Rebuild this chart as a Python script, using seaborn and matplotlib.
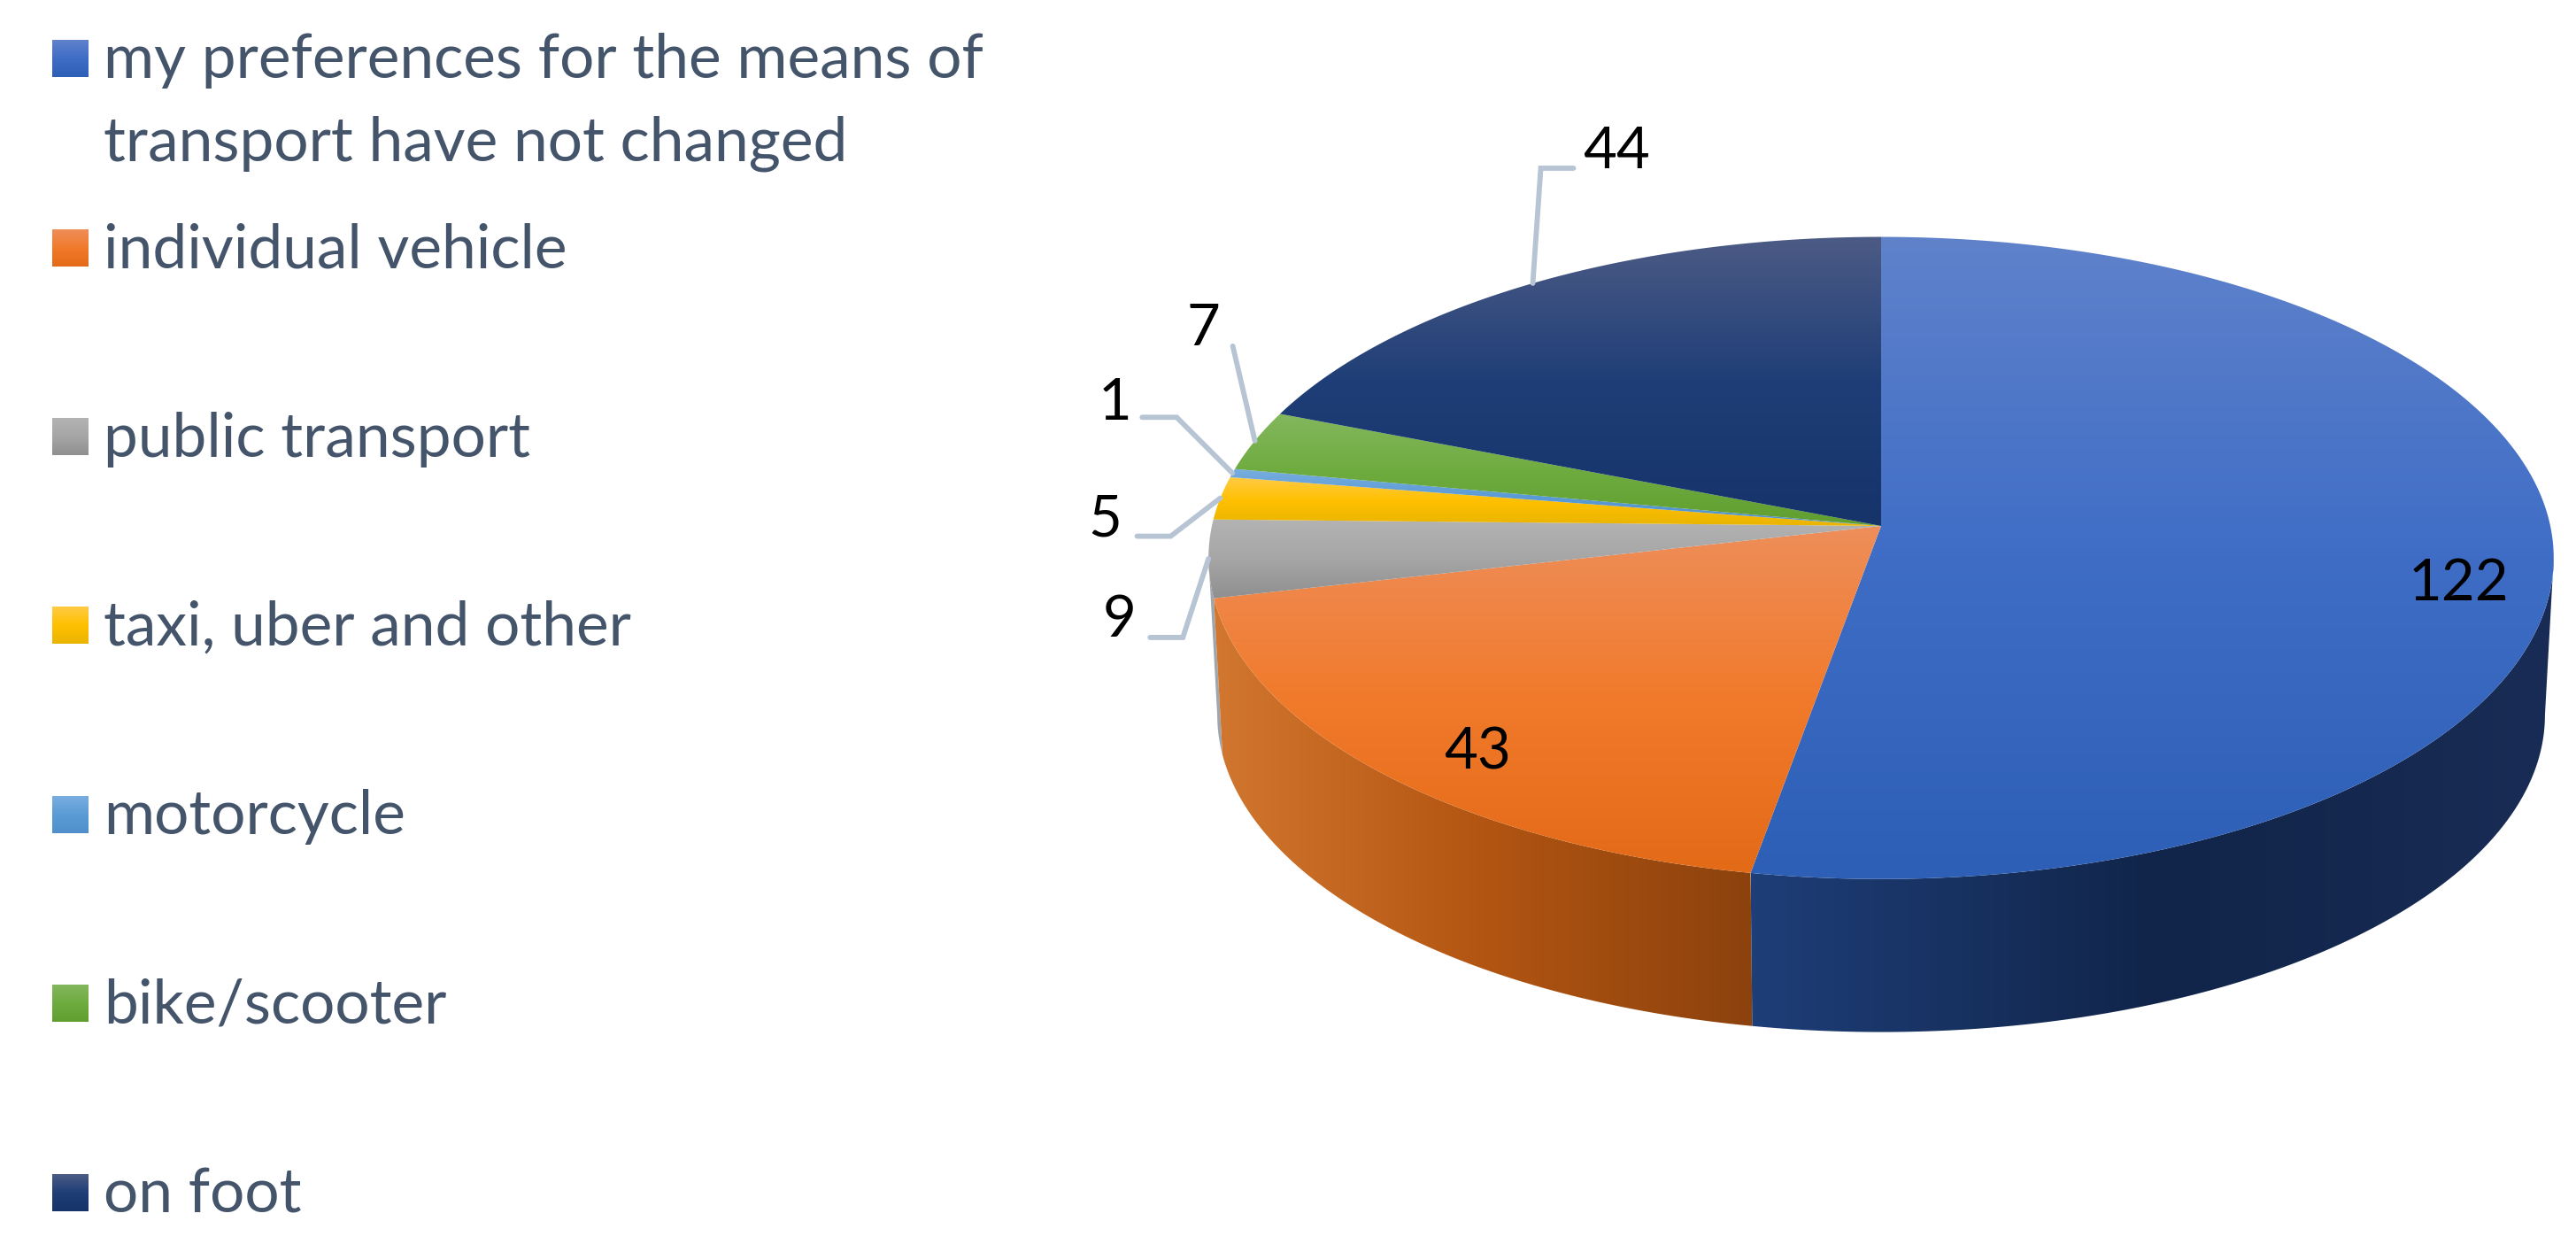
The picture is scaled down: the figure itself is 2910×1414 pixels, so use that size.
""" Survey pie chart drawn as a tilted 3D pie with gradient faces """
import numpy as np
import matplotlib

matplotlib.use("Agg")
import matplotlib.pyplot as plt
from matplotlib.patches import Polygon
import seaborn as sns

categories = [
    "my preferences for the means of\ntransport have not changed",
    "individual vehicle",
    "public transport",
    "taxi, uber and other",
    "motorcycle",
    "bike/scooter",
    "on foot",
]
values = [122, 43, 9, 5, 1, 7, 44]

top_stops = [
    ["#5F82CB", "#3F6DC6", "#2D5FB6"],
    ["#EE8E5A", "#F17A2B", "#E36A17"],
    ["#B3B3B3", "#A6A6A6", "#8F8F8F"],
    ["#FFCB45", "#FFC000", "#E9B400"],
    ["#79AEE0", "#5B9BD5", "#4F8FCB"],
    ["#83B75D", "#6FAC40", "#5F9E2F"],
    ["#4C5B85", "#1F3E77", "#16336A"],
]
side_stops = [
    ["#1E3E78", "#11254A", "#182C55"],
    ["#D2772F", "#B25512", "#8C420D"],
    ["#9FA6AE", "#9FA6AE", "#9FA6AE"],
]

# geometry of the pie, in pixels
CX, CY = 2125, 594
RX, RY = 756, 359
PERSP = 0.0997
BOTTOM_SCALE = 0.987
BOTTOM_DROP = 178

# leader elbow, leader end and label, relative to the slice rim point
label_layout = [
    {"points": [], "text": (-107, 34)},
    {"points": [], "text": (106, -24)},
    {"points": [(-29, 89), (-66, 89)], "text": (-101, 70)},
    {"points": [(-56, 43), (-94, 43)], "text": (-130, 24)},
    {"points": [(-63, -63), (-102, -63)], "text": (-133, -79)},
    {"points": [(-25, -107)], "text": (-58, -126)},
    {"points": [(9, -130), (46, -130)], "text": (95, -148)},
]

LEGEND_Y = [66, 280, 493, 706, 920, 1133, 1347]
LEGEND_TEXT_SIZE = 50
LABEL_SIZE = 47


def rim(theta, scale=1.0, drop=0.0):
    """Projects angles (clockwise from the back of the pie) on the screen."""
    depth = 1 + PERSP * np.cos(theta)
    x = CX + scale * RX * np.sin(theta) / depth
    y = CY + drop - scale * RY * np.cos(theta) / depth
    return x, y


def fill_gradient(ax, points, stops, vertical=True, zorder=2):
    """Fills a polygon with a three stop gradient, clipped to its shape."""
    cmap = sns.blend_palette(stops, n_colors=128, as_cmap=True)
    ramp = np.linspace(0, 1, 256)
    ramp = ramp[:, None] if vertical else ramp[None, :]
    x0, x1 = points[:, 0].min(), points[:, 0].max()
    y0, y1 = points[:, 1].min(), points[:, 1].max()
    patch = Polygon(points, closed=True, transform=ax.transData, fc="none", ec="none")
    ax.add_patch(patch)
    im = ax.imshow(
        ramp,
        cmap=cmap,
        extent=(x0, x1, y1, y0),
        aspect="auto",
        origin="upper",
        vmin=0,
        vmax=1,
        interpolation="bilinear",
        zorder=zorder,
    )
    im.set_clip_path(patch)


sns.set_theme(style="white")
plt.rcParams["font.family"] = ["Lato", "DejaVu Sans"]

fig = plt.figure(figsize=(29.10, 14.14), dpi=100)
ax = fig.add_axes([0, 0, 1, 1])

cum = np.cumsum([0] + values) / sum(values) * 2 * np.pi
mid = (cum[:-1] + cum[1:]) / 2

# only the front of the wall shows, between the two widest points of the rim
wall_start = np.arccos(-PERSP)
wall_end = 2 * np.pi - wall_start

for i in reversed(range(len(side_stops))):
    t0, t1 = max(cum[i], wall_start), min(cum[i + 1], wall_end)
    t = np.linspace(t0, t1, 200)
    top_x, top_y = rim(t)
    low_x, low_y = rim(t[::-1], BOTTOM_SCALE, BOTTOM_DROP)
    wall = np.column_stack([np.r_[top_x, low_x], np.r_[top_y, low_y]])
    fill_gradient(ax, wall, side_stops[i], vertical=False, zorder=2)

# top faces
for i in range(len(values)):
    t = np.linspace(cum[i], cum[i + 1], 300)
    x, y = rim(t)
    face = np.column_stack([np.r_[CX, x], np.r_[CY, y]])
    fill_gradient(ax, face, top_stops[i], vertical=True, zorder=3)

# value labels and leaders
for i, value in enumerate(values):
    x0, y0 = rim(mid[i])
    layout = label_layout[i]
    if layout["points"]:
        xs = [x0] + [x0 + p[0] for p in layout["points"]]
        ys = [y0] + [y0 + p[1] for p in layout["points"]]
        ax.plot(xs, ys, color="#B7C4D4", lw=4.2, solid_joinstyle="miter", zorder=4)
    ax.text(
        x0 + layout["text"][0],
        y0 + layout["text"][1],
        str(value),
        fontsize=LABEL_SIZE,
        color="black",
        ha="center",
        va="center",
        zorder=5,
    )

# legend rows, spaced like the original (the long label takes two lines)
for i, name in enumerate(categories):
    y = LEGEND_Y[i]
    swatch = np.array([[59, y - 21], [100, y - 21], [100, y + 21], [59, y + 21]])
    fill_gradient(ax, swatch, top_stops[i], vertical=True, zorder=3)
    for line, text in enumerate(name.split("\n")):
        ax.text(
            117,
            y - 3 + line * 93,
            text,
            fontsize=LEGEND_TEXT_SIZE,
            color="#44546A",
            ha="left",
            va="center_baseline",
        )

ax.set_xlim(0, 2910)
ax.set_ylim(1414, 0)
ax.axis("off")
fig.savefig("out.png", dpi=100)
plt.close(fig)
